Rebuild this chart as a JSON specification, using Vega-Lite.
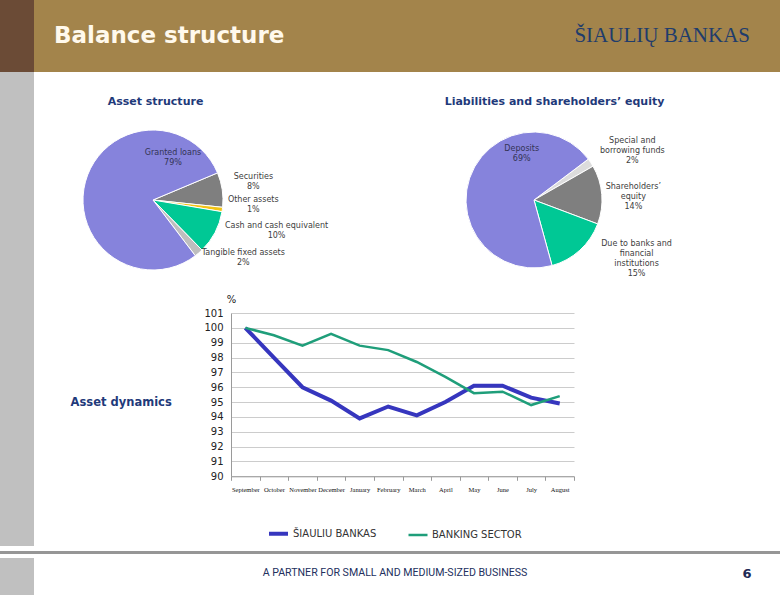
{
  "$schema": "https://vega.github.io/schema/vega-lite/v6.json",
  "background": "#ffffff",
  "padding": 0,
  "spacing": 0,
  "bounds": "full",
  "config": {"view": {"stroke": null}},
  "resolve": {"scale": {"color": "independent", "x": "independent", "y": "independent", "theta": "independent", "strokeWidth": "independent"}, "legend": {"color": "independent"}},
  "vconcat": [
    {
      "spacing": 0,
      "bounds": "flush",
      "hconcat": [
        {"width": 34, "height": 72, "view": {"fill": "#6B4B36", "stroke": null}, "data": {"values": [{}]}, "mark": {"type": "text", "text": ""}, "encoding": {}},
        {"width": 373, "height": 72, "view": {"fill": "#A3844B", "stroke": null},
         "title": {"text": "Balance structure", "frame": "group", "anchor": "start", "orient": "top", "offset": -66, "baseline": "alphabetic", "dx": 20, "font": "DejaVu Sans", "fontWeight": "bold", "fontSize": 23, "color": "#FFF9EC"},
         "data": {"values": [{}]}, "mark": {"type": "text", "text": ""}, "encoding": {}},
        {"width": 373, "height": 72, "view": {"fill": "#A3844B", "stroke": null},
         "title": {"text": "ŠIAULIŲ BANKAS", "frame": "group", "anchor": "end", "orient": "top", "offset": -63, "baseline": "alphabetic", "dx": -30, "font": "Liberation Serif", "fontWeight": "normal", "fontSize": 21, "color": "#1F3C6C"},
         "data": {"values": [{}]}, "mark": {"type": "text", "text": ""}, "encoding": {}}
      ]
    },
    {
      "spacing": 0,
      "bounds": "full",
      "resolve": {"scale": {"color": "independent", "x": "independent", "y": "independent", "theta": "independent", "strokeWidth": "independent"}, "legend": {"color": "independent"}},
      "hconcat": [
        {"width": 34, "height": 474, "view": {"fill": "#C0C0C0", "stroke": null}, "data": {"values": [{}]}, "mark": {"type": "text", "text": ""}, "encoding": {}},
        {
          "spacing": 0,
          "bounds": "full",
          "resolve": {"scale": {"color": "independent", "x": "independent", "y": "independent", "theta": "independent", "strokeWidth": "independent"}, "legend": {"color": "independent"}},
          "vconcat": [
            {"width": 746, "height": 23, "data": {"values": [{}]}, "mark": {"type": "text", "text": ""}, "encoding": {}},
            {
              "width": 619, "height": 164,
              "resolve": {"scale": {"theta": "independent"}},
              "layer": [
                {
                  "data": {"values": [
                    {"k": "Securities", "v": 8, "i": 1, "label": "Securities\n8%"},
                    {"k": "Other assets", "v": 1, "i": 2, "label": "Other assets\n1%"},
                    {"k": "Cash and cash equivalent", "v": 10, "i": 3, "label": "Cash and cash equivalent\n10%"},
                    {"k": "Tangible fixed assets", "v": 2, "i": 4, "label": "Tangible fixed assets\n2%"},
                    {"k": "Granted loans", "v": 79, "i": 5, "label": "Granted loans\n79%"}
                  ]},
                  "encoding": {
                    "x": {"datum": "Asset structure", "type": "nominal",
                      "scale": {"type": "point", "padding": 0.3123, "domain": ["Asset structure", "Liabilities and shareholders’ equity"]},
                      "axis": {"orient": "top", "title": null, "domain": false, "ticks": false, "tickSize": 0, "labelPadding": 12, "labelAngle": 0, "labelFont": "DejaVu Sans", "labelFontWeight": "bold", "labelFontSize": 11, "labelColor": "#1F3A7A", "labelOverlap": false, "labelBound": false, "labelLimit": 500,
                        "labelOffset": {"condition": {"test": "datum.value === 'Asset structure'", "value": 2}, "value": 20}}},
                    "theta": {"field": "v", "type": "quantitative", "stack": true, "scale": {"range": [1.1729, 7.4561]}},
                    "color": {"field": "k", "type": "nominal", "legend": null,
                      "scale": {"domain": ["Securities", "Other assets", "Cash and cash equivalent", "Tangible fixed assets", "Granted loans", "Special and borrowing funds", "Shareholders’ equity", "Due to banks and financial institutions", "Deposits"],
                                "range": ["#7F7F7F", "#F2C314", "#00C895", "#BEBEBE", "#8683DC", "#DCDCDC", "#7F7F7F", "#00C895", "#8683DC"]}},
                    "order": {"field": "i", "type": "quantitative"}
                  },
                  "layer": [
                    {"mark": {"type": "arc", "outerRadius": 70, "stroke": "#ffffff", "strokeWidth": 1}},
                    {"transform": [{"stack": "v", "groupby": [], "sort": [{"field": "i", "order": "ascending"}], "as": ["v0", "v1"]}, {"filter": "datum.i === 1"}],
                     "mark": {"type": "text", "radius": 101.3, "dx": 7, "dy": 16.6, "font": "DejaVu Sans", "fontSize": 8, "lineHeight": 10, "lineBreak": "\n"},
                     "encoding": {"theta": {"field": "v0", "type": "quantitative", "stack": null}, "color": {"value": "#404040"}, "text": {"field": "label"}}},
                    {"transform": [{"stack": "v", "groupby": [], "sort": [{"field": "i", "order": "ascending"}], "as": ["v0", "v1"]}, {"filter": "datum.i === 2"}],
                     "mark": {"type": "text", "radius": 99.8, "dx": 1, "dy": -10, "font": "DejaVu Sans", "fontSize": 8, "lineHeight": 10, "lineBreak": "\n"},
                     "encoding": {"theta": {"field": "v0", "type": "quantitative", "stack": null}, "color": {"value": "#404040"}, "text": {"field": "label"}}},
                    {"transform": [{"stack": "v", "groupby": [], "sort": [{"field": "i", "order": "ascending"}], "as": ["v0", "v1"]}, {"filter": "datum.i === 3"}],
                     "mark": {"type": "text", "radius": 126.3, "dx": -1, "dy": 5, "font": "DejaVu Sans", "fontSize": 8, "lineHeight": 10, "lineBreak": "\n"},
                     "encoding": {"theta": {"field": "v0", "type": "quantitative", "stack": null}, "color": {"value": "#404040"}, "text": {"field": "label"}}},
                    {"transform": [{"stack": "v", "groupby": [], "sort": [{"field": "i", "order": "ascending"}], "as": ["v0", "v1"]}, {"filter": "datum.i === 4"}],
                     "mark": {"type": "text", "radius": 101.1, "dx": 19.6, "dy": -19.2, "font": "DejaVu Sans", "fontSize": 8, "lineHeight": 10, "lineBreak": "\n"},
                     "encoding": {"theta": {"field": "v0", "type": "quantitative", "stack": null}, "color": {"value": "#404040"}, "text": {"field": "label"}}},
                    {"transform": [{"stack": "v", "groupby": [], "sort": [{"field": "i", "order": "ascending"}], "as": ["v0", "v1"]}, {"filter": "datum.i === 5"}],
                     "mark": {"type": "text", "radius": 36.5, "dx": -13.7, "dy": -32.6, "font": "DejaVu Sans", "fontSize": 8, "lineHeight": 10, "lineBreak": "\n"},
                     "encoding": {"theta": {"field": "v1", "type": "quantitative", "stack": null}, "color": {"value": "#333355"}, "text": {"field": "label"}}}
                  ]
                },
                {
                  "data": {"values": [
                    {"k": "Special and borrowing funds", "v": 2, "i": 1, "label": "Special and\nborrowing funds\n2%"},
                    {"k": "Shareholders’ equity", "v": 14, "i": 2, "label": "Shareholders’\nequity\n14%"},
                    {"k": "Due to banks and financial institutions", "v": 15, "i": 3, "label": "Due to banks and\nfinancial\ninstitutions\n15%"},
                    {"k": "Deposits", "v": 69, "i": 4, "label": "Deposits\n69%"}
                  ]},
                  "encoding": {
                    "x": {"datum": "Liabilities and shareholders’ equity", "type": "nominal"},
                    "theta": {"field": "v", "type": "quantitative", "stack": true, "scale": {"range": [0.925, 7.2082]}},
                    "color": {"field": "k", "type": "nominal", "legend": null},
                    "order": {"field": "i", "type": "quantitative"}
                  },
                  "layer": [
                    {"mark": {"type": "arc", "outerRadius": 68, "stroke": "#ffffff", "strokeWidth": 1}},
                    {"transform": [{"stack": "v", "groupby": [], "sort": [{"field": "i", "order": "ascending"}], "as": ["v0", "v1"]}, {"filter": "datum.i === 1"}],
                     "mark": {"type": "text", "radius": 114.8, "dx": -1.3, "dy": -2.2, "font": "DejaVu Sans", "fontSize": 8, "lineHeight": 10, "lineBreak": "\n"},
                     "encoding": {"theta": {"field": "v1", "type": "quantitative", "stack": null}, "color": {"value": "#404040"}, "text": {"field": "label"}}},
                    {"transform": [{"stack": "v", "groupby": [], "sort": [{"field": "i", "order": "ascending"}], "as": ["v0", "v1"]}, {"filter": "datum.i === 2"}],
                     "mark": {"type": "text", "radius": 92.8, "dx": 18.8, "dy": 32.8, "font": "DejaVu Sans", "fontSize": 8, "lineHeight": 10, "lineBreak": "\n"},
                     "encoding": {"theta": {"field": "v0", "type": "quantitative", "stack": null}, "color": {"value": "#404040"}, "text": {"field": "label"}}},
                    {"transform": [{"stack": "v", "groupby": [], "sort": [{"field": "i", "order": "ascending"}], "as": ["v0", "v1"]}, {"filter": "datum.i === 3"}],
                     "mark": {"type": "text", "radius": 111.7, "dx": -2, "dy": 1, "baseline": "top", "font": "DejaVu Sans", "fontSize": 8, "lineHeight": 10, "lineBreak": "\n"},
                     "encoding": {"theta": {"field": "v0", "type": "quantitative", "stack": null}, "color": {"value": "#404040"}, "text": {"field": "label"}}},
                    {"transform": [{"stack": "v", "groupby": [], "sort": [{"field": "i", "order": "ascending"}], "as": ["v0", "v1"]}, {"filter": "datum.i === 4"}],
                     "mark": {"type": "text", "radius": 20.7, "dx": -28.8, "dy": -38.2, "font": "DejaVu Sans", "fontSize": 8, "lineHeight": 10, "lineBreak": "\n"},
                     "encoding": {"theta": {"field": "v1", "type": "quantitative", "stack": null}, "color": {"value": "#333355"}, "text": {"field": "label"}}}
                  ]
                }
              ]
            },
            {"width": 746, "height": 3.2, "data": {"values": [{}]}, "mark": {"type": "text", "text": ""}, "encoding": {}},
            {
              "spacing": 0,
              "bounds": "flush",
              "hconcat": [
                {"width": 197, "height": 163.3, "data": {"values": [{}]}, "mark": {"type": "text", "text": ""}, "encoding": {}},
                {
                  "width": 343, "height": 163.3,
                  "title": {"text": "Asset dynamics", "orient": "left", "angle": 0, "align": "right", "baseline": "middle", "anchor": "middle", "offset": -69, "dy": 8.5, "font": "DejaVu Sans", "fontWeight": "bold", "fontSize": 11.5, "color": "#1F3A7A"},
                  "data": {"values": [
                    {"month": "September", "bank": "ŠIAULIU BANKAS", "v": 100.0},
                    {"month": "October", "bank": "ŠIAULIU BANKAS", "v": 98.0},
                    {"month": "November", "bank": "ŠIAULIU BANKAS", "v": 96.0},
                    {"month": "December", "bank": "ŠIAULIU BANKAS", "v": 95.1},
                    {"month": "January", "bank": "ŠIAULIU BANKAS", "v": 93.9},
                    {"month": "February", "bank": "ŠIAULIU BANKAS", "v": 94.7},
                    {"month": "March", "bank": "ŠIAULIU BANKAS", "v": 94.1},
                    {"month": "April", "bank": "ŠIAULIU BANKAS", "v": 95.0},
                    {"month": "May", "bank": "ŠIAULIU BANKAS", "v": 96.1},
                    {"month": "June", "bank": "ŠIAULIU BANKAS", "v": 96.1},
                    {"month": "July", "bank": "ŠIAULIU BANKAS", "v": 95.3},
                    {"month": "August", "bank": "ŠIAULIU BANKAS", "v": 94.9},
                    {"month": "September", "bank": "BANKING SECTOR", "v": 100.0},
                    {"month": "October", "bank": "BANKING SECTOR", "v": 99.5},
                    {"month": "November", "bank": "BANKING SECTOR", "v": 98.8},
                    {"month": "December", "bank": "BANKING SECTOR", "v": 99.6},
                    {"month": "January", "bank": "BANKING SECTOR", "v": 98.8},
                    {"month": "February", "bank": "BANKING SECTOR", "v": 98.5},
                    {"month": "March", "bank": "BANKING SECTOR", "v": 97.7},
                    {"month": "April", "bank": "BANKING SECTOR", "v": 96.7},
                    {"month": "May", "bank": "BANKING SECTOR", "v": 95.6},
                    {"month": "June", "bank": "BANKING SECTOR", "v": 95.7},
                    {"month": "July", "bank": "BANKING SECTOR", "v": 94.8},
                    {"month": "August", "bank": "BANKING SECTOR", "v": 95.4}
                  ]},
                  "mark": {"type": "line"},
                  "encoding": {
                    "x": {"field": "month", "type": "ordinal",
                      "sort": ["September", "October", "November", "December", "January", "February", "March", "April", "May", "June", "July", "August"],
                      "scale": {"type": "band", "paddingInner": 0, "paddingOuter": 0},
                      "axis": {"title": null, "labelAngle": 0, "labelFont": "Liberation Serif", "labelFontSize": 6.5, "labelColor": "#111111", "labelPadding": 6, "tickBand": "extent", "tickSize": 4, "tickColor": "#9A9A9A", "domainColor": "#9A9A9A", "labelOverlap": false, "grid": false}},
                    "y": {"field": "v", "type": "quantitative",
                      "scale": {"domain": [90, 101], "zero": false, "nice": false},
                      "axis": {"values": [90, 91, 92, 93, 94, 95, 96, 97, 98, 99, 100, 101], "format": "d", "title": "%", "titleAngle": 0, "titleX": 0, "titleY": -14, "titleAlign": "center", "titleBaseline": "middle", "titleFont": "DejaVu Sans", "titleFontWeight": "normal", "titleFontSize": 10, "titleColor": "#222222", "labelFont": "DejaVu Sans", "labelFontSize": 10, "labelColor": "#222222", "labelPadding": 8, "ticks": false, "domainColor": "#9A9A9A", "gridColor": "#CCCCCC"}},
                    "color": {"field": "bank", "type": "nominal",
                      "scale": {"domain": ["ŠIAULIU BANKAS", "BANKING SECTOR"], "range": ["#3636BE", "#1F9E7A"]},
                      "legend": {"title": null, "orient": "none", "legendX": 233, "legendY": 209, "direction": "horizontal", "symbolType": "stroke", "symbolSize": 361, "symbolStrokeWidth": 2.5, "labelFont": "DejaVu Sans", "labelFontSize": 10, "labelColor": "#333333", "columnPadding": 26, "labelOffset": 3}},
                    "strokeWidth": {"field": "bank", "type": "nominal", "legend": null,
                      "scale": {"domain": ["ŠIAULIU BANKAS", "BANKING SECTOR"], "range": [4, 2.5]}}
                  }
                }
              ]
            }
          ]
        }
      ]
    },
    {"width": 780, "height": 3, "view": {"fill": "#969696", "stroke": null}, "data": {"values": [{}]}, "mark": {"type": "text", "text": ""}, "encoding": {}},
    {
      "spacing": 0,
      "bounds": "flush",
      "hconcat": [
        {"width": 34, "height": 46, "view": {"fill": "#C0C0C0", "stroke": null}, "data": {"values": [{}]}, "mark": {"type": "text", "text": ""}, "encoding": {}},
        {"width": 100, "height": 46, "data": {"values": [{}]}, "mark": {"type": "text", "text": ""}, "encoding": {}},
        {"width": 560, "height": 46,
         "title": {"text": "A PARTNER FOR SMALL AND MEDIUM-SIZED BUSINESS", "frame": "group", "anchor": "middle", "orient": "top", "offset": -29, "baseline": "alphabetic", "dx": -19, "font": "Liberation Sans Narrow, Roboto", "fontWeight": "normal", "fontSize": 10.6, "color": "#23305E"},
         "data": {"values": [{}]}, "mark": {"type": "text", "text": ""}, "encoding": {}},
        {"width": 86, "height": 46,
         "title": {"text": "6", "frame": "group", "anchor": "middle", "orient": "top", "offset": -33, "baseline": "alphabetic", "dx": 10, "font": "DejaVu Sans", "fontWeight": "bold", "fontSize": 13, "color": "#1F2A55"},
         "data": {"values": [{}]}, "mark": {"type": "text", "text": ""}, "encoding": {}}
      ]
    }
  ]
}
